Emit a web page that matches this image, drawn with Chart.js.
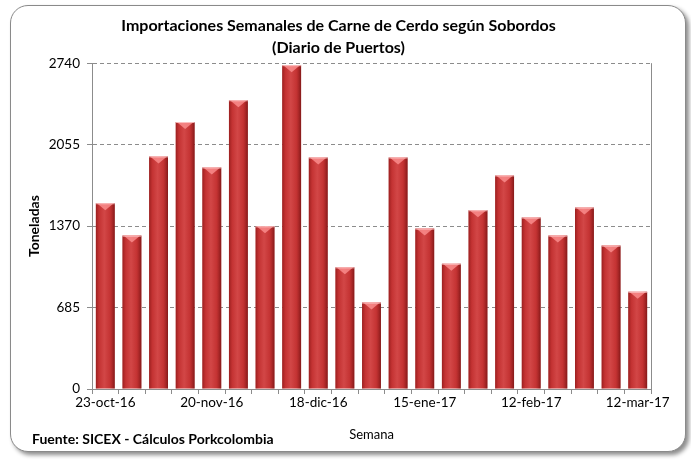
<!DOCTYPE html>
<html>
<head>
<meta charset="utf-8">
<script src="https://cdn.jsdelivr.net/npm/chart.js@4/dist/chart.umd.min.js"></script>
<style>
  html, body { margin: 0; padding: 0; background: #ffffff; }
  #wrap { position: relative; width: 691px; height: 461px; overflow: hidden; background: #fff; }
  #frame { position: absolute; left: 10px; top: 5px; width: 674px; height: 445px;
           border: 1.5px solid #8a8a8a; border-radius: 18px; background: #fff;
           box-shadow: 3px 3px 4px rgba(0,0,0,0.45); }
  canvas { position: absolute; left: 0; top: 0; }
</style>
</head>
<body>
<div id="wrap">
  <div id="frame"></div>
  <canvas id="c" width="691" height="461"></canvas>
</div>
<script>
const titleLines = ['Importaciones Semanales de Carne de Cerdo según Sobordos', '(Diario de Puertos)'];
const yAxisTitle = 'Toneladas';
const xAxisTitle = 'Semana';
const sourceNote = 'Fuente: SICEX - Cálculos Porkcolombia';

const weeks = ['23-oct-16','30-oct-16','6-nov-16','13-nov-16','20-nov-16','27-nov-16','4-dic-16','11-dic-16',
               '18-dic-16','25-dic-16','1-ene-17','8-ene-17','15-ene-17','22-ene-17','29-ene-17','5-feb-17',
               '12-feb-17','19-feb-17','26-feb-17','5-mar-17','12-mar-17'];
const tons = [1562, 1290, 1956, 2245, 1863, 2428, 1368, 2723, 1947, 1023, 727,
              1947, 1349, 1054, 1503, 1796, 1442, 1290, 1526, 1206, 818];
const yTicks = [0, 685, 1370, 2055, 2740];

const FONT = 'Lato, "Open Sans", sans-serif';

const decor = {
  id: 'decor',
  afterDatasetsDraw(chart) {
    const ctx = chart.ctx;
    const meta = chart.getDatasetMeta(0);
    meta.data.forEach(bar => {
      const w = bar.width, x0 = bar.x - w / 2, top = bar.y, base = bar.base;
      const h = base - top;
      ctx.save();
      const g = ctx.createLinearGradient(x0, 0, x0 + w, 0);
      g.addColorStop(0, 'rgba(90,0,0,0.45)');
      g.addColorStop(0.18, 'rgba(120,10,10,0.10)');
      g.addColorStop(0.45, 'rgba(255,200,200,0.10)');
      g.addColorStop(0.75, 'rgba(120,10,10,0.10)');
      g.addColorStop(1, 'rgba(70,0,0,0.55)');
      ctx.fillStyle = g;
      ctx.fillRect(x0, top, w, h);
      ctx.beginPath();
      ctx.moveTo(x0 + 1, top);
      ctx.lineTo(x0 + w - 1, top);
      ctx.lineTo(bar.x, top + Math.min(7, h));
      ctx.closePath();
      ctx.fillStyle = 'rgba(255,150,150,0.75)';
      ctx.fill();
      ctx.fillStyle = 'rgba(255,210,210,0.8)';
      ctx.fillRect(x0, top, w, 1);
      ctx.restore();
    });
    const a = chart.chartArea;
    ctx.save();
    ctx.strokeStyle = '#8c8c8c';
    ctx.lineWidth = 1;
    ctx.setLineDash([]);
    ctx.beginPath();
    ctx.moveTo(Math.round(a.right) + 0.5, a.top);
    ctx.lineTo(Math.round(a.right) + 0.5, a.bottom);
    ctx.moveTo(Math.round(a.left) + 0.5, a.top);
    ctx.lineTo(Math.round(a.left) + 0.5, a.bottom);
    ctx.stroke();
    ctx.fillStyle = '#000';
    ctx.font = 'bold 14px ' + FONT;
    ctx.textBaseline = 'middle';
    ctx.textAlign = 'left';
    ctx.fillText(sourceNote, 32, 439);
    ctx.restore();
  }
};

new Chart(document.getElementById('c'), {
  type: 'bar',
  data: {
    labels: weeks,
    datasets: [{
      data: tons,
      backgroundColor: '#cd3838',
      borderWidth: 0,
      categoryPercentage: 1.0,
      barPercentage: 0.71
    }]
  },
  options: {
    responsive: false,
    animation: false,
    devicePixelRatio: 1,
    layout: { padding: { left: 26, right: 40, top: 8, bottom: 18 } },
    plugins: {
      legend: { display: false },
      tooltip: { enabled: false },
      title: {
        display: true,
        text: titleLines,
        color: '#000',
        font: { family: FONT, size: 16, weight: 'bold', lineHeight: 1.38 },
        padding: { top: 7, bottom: 4 }
      }
    },
    scales: {
      x: {
        offset: true,
        grid: { display: true, drawOnChartArea: false, drawTicks: true, tickLength: 5, color: '#8c8c8c', offset: true },
        border: { display: true, color: '#8c8c8c', width: 1 },
        ticks: {
          autoSkip: false, maxRotation: 0, minRotation: 0,
          color: '#000', font: { family: FONT, size: 13.5 }, padding: 1,
          callback: function(v, i) { return i % 4 === 0 ? weeks[i] : ''; }
        },
        title: { display: true, text: xAxisTitle, color: '#000', font: { family: FONT, size: 13 }, padding: { top: 1, bottom: 0 } },
        afterFit(s) { s.height = 54; }
      },
      y: {
        min: 0, max: 2740,
        afterBuildTicks(s) { s.ticks = yTicks.map(v => ({ value: v })); },
        grid: { color: '#8c8c8c', tickLength: 5, lineWidth: 1, tickBorderDash: [] },
        border: { display: true, color: '#8c8c8c', dash: [4, 3] },
        ticks: { color: '#000', font: { family: FONT, size: 13.5 }, padding: 7,
                 callback: function(v) { return String(v); } },
        title: { display: true, text: yAxisTitle, color: '#000', font: { family: FONT, size: 14, weight: 'bold' }, padding: { top: 0, bottom: 6 } },
        afterFit(s) { s.width = 66; }
      }
    }
  },
  plugins: [decor]
});
</script>
</body>
</html>
